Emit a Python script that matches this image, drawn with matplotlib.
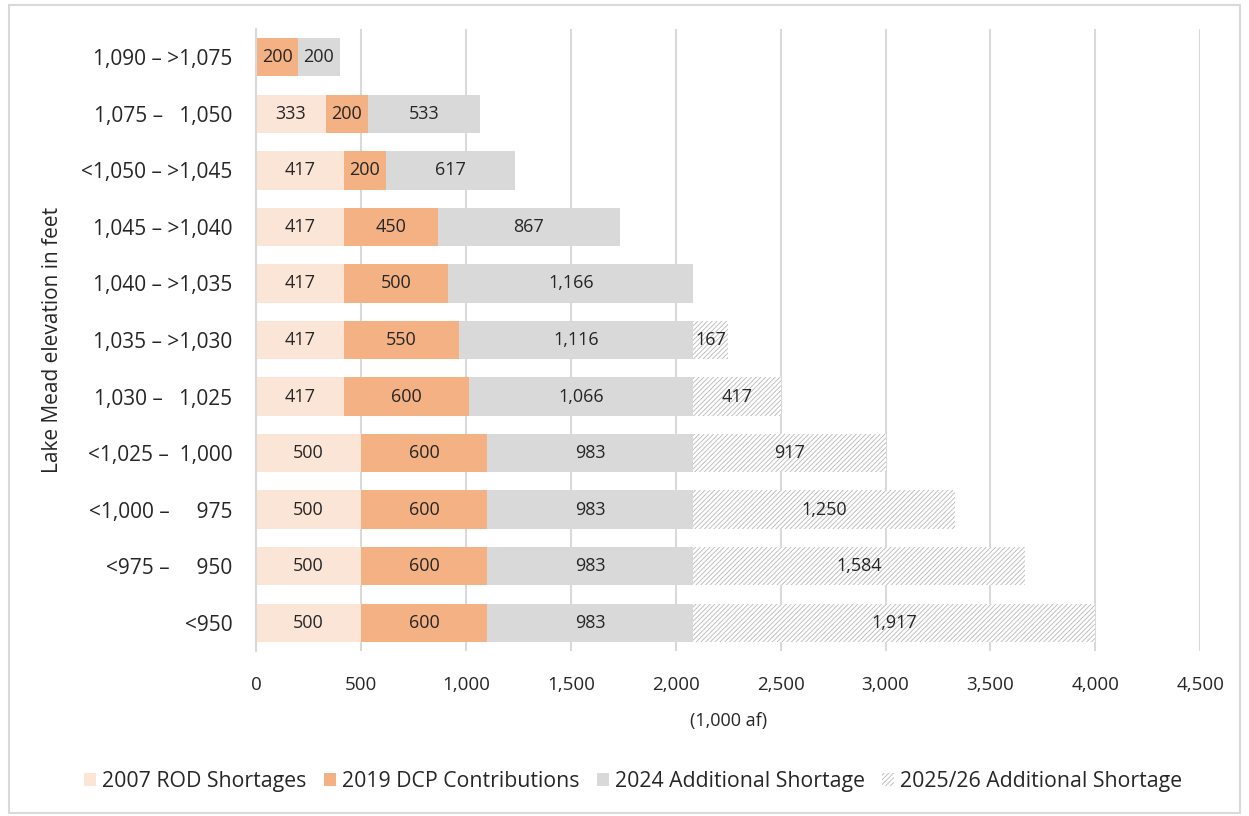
import matplotlib.pyplot as plt
from matplotlib.patches import Rectangle
import numpy as np

# --- DATA ---
elevations = ['1,090 – >1,075', '1,075 –   1,050', '<1,050 – >1,045', '1,045 – >1,040',
              '1,040 – >1,035', '1,035 – >1,030', '1,030 –   1,025', '<1,025 –  1,000',
              '<1,000 –     975', '<975 –     950', '<950']
rod_2007 = [0, 333, 417, 417, 417, 417, 417, 500, 500, 500, 500]
dcp_2019 = [200, 200, 200, 450, 500, 550, 600, 600, 600, 600, 600]
add_2024 = [200, 533, 617, 867, 1166, 1116, 1066, 983, 983, 983, 983]
add_2025 = [0, 0, 0, 0, 0, 167, 417, 917, 1250, 1584, 1917]
series_names = ['2007 ROD Shortages', '2019 DCP Contributions',
                '2024 Additional Shortage', '2025/26 Additional Shortage']
# ------------

plt.rcParams['font.family'] = ['Open Sans', 'DejaVu Sans']
plt.rcParams['hatch.linewidth'] = 0.6

fig = plt.figure(figsize=(12.49, 8.16), dpi=100)
ax = fig.add_axes([0.205, 0.2022, 0.756, 0.7623])

# light border round the whole chart
fig.patches.append(Rectangle((0.007, 0.004), 0.986, 0.99, transform=fig.transFigure,
                             fill=False, edgecolor='#d9d9d9', linewidth=1.5))

y = np.arange(len(elevations))
series = [rod_2007, dcp_2019, add_2024, add_2025]
colors = ['#fbe5d6', '#f4b183', '#d9d9d9', 'white']

left = np.zeros(len(elevations))
for vals, name, col in zip(series, series_names, colors):
    vals = np.array(vals, dtype=float)
    if name.startswith('2025'):
        bars = ax.barh(y, vals, left=left, height=0.68, color=col, edgecolor='#b8b8b8',
                       linewidth=0, hatch='///////', label=name, zorder=2)
    else:
        bars = ax.barh(y, vals, left=left, height=0.68, color=col, linewidth=0,
                       label=name, zorder=2)
    for b, v in zip(bars, vals):
        if v > 0:
            ax.text(b.get_x() + b.get_width() / 2, b.get_y() + b.get_height() / 2,
                    f'{int(v):,}', ha='center', va='center', fontsize=13,
                    color='#262626', zorder=3)
    left += vals

ax.set_yticks(y)
ax.set_yticklabels(elevations, fontsize=15, color='#262626')
ax.set_ylim(len(elevations) - 0.5, -0.5)
ax.set_xlim(0, 4500)
ax.set_xticks(np.arange(0, 4501, 500))
ax.set_xticklabels([f'{t:,}' for t in range(0, 4501, 500)], fontsize=13.5, color='#262626')
ax.tick_params(axis='y', length=0, pad=17)
ax.tick_params(axis='x', length=0, pad=18)
ax.grid(axis='x', color='#d9d9d9', linewidth=1.5, zorder=0)
for s in ['top', 'right', 'bottom']:
    ax.spines[s].set_visible(False)
ax.spines['left'].set_color('#d9d9d9')
ax.spines['left'].set_linewidth(1.5)

ax.set_xlabel('(1,000 af)', fontsize=13, color='#262626', labelpad=13)
ax.set_ylabel('Lake Mead elevation in feet', fontsize=15, color='#262626', labelpad=13)

fig.legend(loc='center', bbox_to_anchor=(0.507, 0.042), ncol=4, frameon=False,
           fontsize=15.3, handlelength=0.56, handleheight=0.56, handletextpad=0.3,
           columnspacing=0.8, labelcolor='#262626')

plt.savefig('out.png', dpi=100)
